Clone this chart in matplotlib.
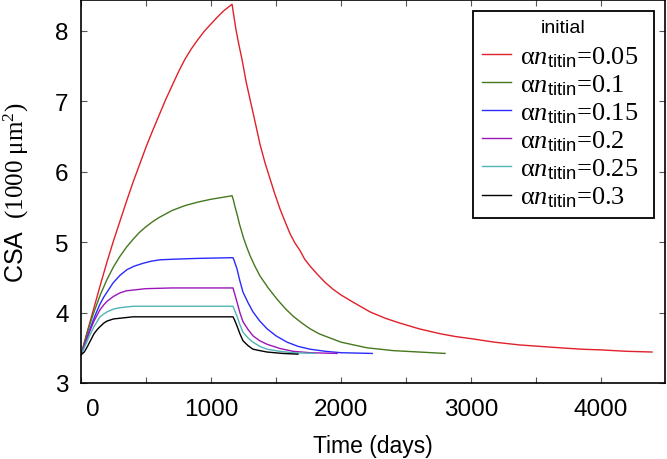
import numpy as np
import matplotlib
matplotlib.use("Agg")
import matplotlib.pyplot as plt
from matplotlib.ticker import MultipleLocator
from matplotlib.transforms import ScaledTranslation

# ========== DATA ==========
labels_n = ["0.05", "0.1", "0.15", "0.2", "0.25", "0.3"]
colors = ["#e0202a", "#46781e", "#2a2aff", "#9a16b8", "#50b4b4", "#000000"]

t_red = [0, 50, 100, 150, 200, 250, 300, 350, 400, 450, 500, 550, 600, 650, 700, 750,
         800, 850, 900, 950, 1000, 1050, 1100, 1162,
         1175, 1192, 1215, 1238, 1270, 1300, 1340, 1377, 1415, 1454, 1490, 1531, 1570,
         1608, 1645, 1685, 1720, 1762, 1820, 1877, 1940, 2000, 2100, 2223, 2340, 2454,
         2600, 2762, 2880, 3000, 3180, 3377, 3530, 3685, 3850, 4000, 4200, 4392]
v_red = [3.40, 3.74, 4.07, 4.40, 4.72, 5.02, 5.30, 5.58, 5.85, 6.10, 6.35, 6.58, 6.80, 7.02, 7.22, 7.42,
         7.60, 7.75, 7.88, 8.00, 8.10, 8.20, 8.29, 8.38,
         8.22, 8.02, 7.80, 7.60, 7.28, 7.03, 6.70, 6.39, 6.13, 5.90, 5.69, 5.47, 5.29,
         5.12, 4.99, 4.88, 4.76, 4.66, 4.54, 4.43, 4.33, 4.25, 4.14, 4.01, 3.92, 3.85,
         3.77, 3.70, 3.66, 3.63, 3.58, 3.54, 3.52, 3.50, 3.48, 3.47, 3.45, 3.44]

t_green = [0, 50, 100, 150, 200, 250, 300, 350, 400, 450, 500, 550, 600, 650, 700, 800, 900,
           1000, 1100, 1162,
           1172, 1185, 1200, 1220, 1250, 1277, 1300, 1340, 1377, 1440, 1508, 1570, 1631,
           1700, 1762, 1830, 1900, 2000, 2100, 2200, 2300, 2400, 2600, 2800]
v_green = [3.40, 3.73, 4.01, 4.26, 4.47, 4.65, 4.80, 4.93, 5.04, 5.14, 5.22, 5.29, 5.35, 5.40, 5.45, 5.52, 5.57,
           5.61, 5.64, 5.66,
           5.60, 5.50, 5.40, 5.25, 5.06, 4.92, 4.81, 4.65, 4.52, 4.35, 4.19, 4.06, 3.95,
           3.85, 3.77, 3.70, 3.65, 3.58, 3.54, 3.50, 3.48, 3.46, 3.44, 3.42]

t_blue = [0, 30, 60, 92, 120, 146, 175, 200, 246, 300, 354, 410, 477, 540, 608, 738, 900, 1169,
          1180, 1200, 1222, 1246, 1285, 1323, 1375, 1431, 1500, 1585, 1670, 1762, 1880, 2000, 2240]
v_blue = [3.40, 3.55, 3.72, 3.88, 4.01, 4.12, 4.22, 4.29, 4.42, 4.53, 4.61, 4.66, 4.70, 4.73, 4.75, 4.76, 4.77, 4.78,
          4.73, 4.62, 4.45, 4.29, 4.14, 4.01, 3.88, 3.77, 3.67, 3.58, 3.52, 3.48, 3.45, 3.43, 3.42]

t_purple = [0, 30, 60, 100, 146, 175, 200, 250, 300, 350, 400, 500, 700, 1169,
            1180, 1200, 1222, 1246, 1285, 1323, 1375, 1431, 1530, 1631, 1762, 1970]
v_purple = [3.40, 3.55, 3.70, 3.88, 4.04, 4.11, 4.16, 4.23, 4.28, 4.31, 4.32, 4.34, 4.35, 4.35,
            4.28, 4.15, 4.00, 3.87, 3.76, 3.67, 3.60, 3.55, 3.49, 3.45, 3.43, 3.42]

t_cyan = [0, 30, 60, 100, 146, 175, 200, 250, 300, 400, 1169,
          1180, 1200, 1222, 1246, 1285, 1323, 1375, 1431, 1530, 1631, 1800]
v_cyan = [3.40, 3.52, 3.65, 3.80, 3.94, 3.98, 4.01, 4.05, 4.07, 4.09, 4.09,
          4.04, 3.95, 3.83, 3.72, 3.64, 3.58, 3.52, 3.48, 3.45, 3.43, 3.42]

t_black = [0, 25, 50, 75, 100, 125, 146, 175, 200, 250, 300, 400, 1169,
           1180, 1200, 1222, 1246, 1285, 1323, 1375, 1431, 1550, 1669]
v_black = [3.40, 3.44, 3.52, 3.61, 3.70, 3.76, 3.80, 3.85, 3.88, 3.91, 3.92, 3.94, 3.94,
           3.90, 3.81, 3.70, 3.60, 3.53, 3.48, 3.46, 3.44, 3.42, 3.41]

series = [(t_red, v_red), (t_green, v_green), (t_blue, v_blue),
          (t_purple, v_purple), (t_cyan, v_cyan), (t_black, v_black)]
x_ticks = [0, 1000, 2000, 3000, 4000]

# ========== STYLE ==========
plt.rcParams["font.family"] = ["Liberation Sans", "DejaVu Sans"]
plt.rcParams["mathtext.fontset"] = "custom"
plt.rcParams["mathtext.rm"] = "Liberation Serif"
plt.rcParams["mathtext.it"] = "Liberation Serif:italic"
plt.rcParams["mathtext.sf"] = "Liberation Sans"

fig = plt.figure(figsize=(6.67, 4.6), dpi=100)
ax = fig.add_axes([81 / 667, 76 / 460, 584 / 667, 383 / 460])

for (t, v), col, n in zip(series, colors, labels_n):
    ax.plot(t, v, color=col, lw=1.0,
            label=r"$\mathrm{\alpha}n_{\mathsf{titin}}$=" + n + "  ")

ax.set_xlim(0, 4492)
ax.set_ylim(3, 8.44)
ax.set_xticks(x_ticks)
ax.xaxis.set_minor_locator(MultipleLocator(500))
ax.yaxis.set_major_locator(MultipleLocator(1))
ax.tick_params(which="both", direction="in", top=True, right=True,
               length=4, width=0.8, color="#555555")
ax.tick_params(axis="x", labelsize=17.5, pad=11)
ax.tick_params(axis="y", labelsize=17.5, pad=9)
for s in ax.spines.values():
    s.set_linewidth(1.2)

# the "0" label sits a bit right of its tick in the original
lab0 = ax.xaxis.get_major_ticks()[0].label1
lab0.set_transform(lab0.get_transform() + ScaledTranslation(0.12, 0, fig.dpi_scale_trans))

ax.set_xlabel("Time (days)", fontsize=16.5, labelpad=10)
ax.set_ylabel(r"CSA $\mathrm{\ (1000\ \mu m^2)}$", fontsize=18, labelpad=17)

leg = ax.legend(title="initial", loc="upper right", fontsize=19,
                title_fontsize=14, frameon=True, fancybox=False,
                edgecolor="black", framealpha=1, handlelength=1.1,
                handletextpad=0.35, labelspacing=0.13, borderpad=0.33,
                borderaxespad=0.4)
for txt in leg.get_texts():
    txt.set_family(["Liberation Serif", "DejaVu Serif"])
leg.get_frame().set_linewidth(1.3)
leg._legend_box.sep = 6  # a bit more room under the title

fig.savefig("out.png", dpi=100)
